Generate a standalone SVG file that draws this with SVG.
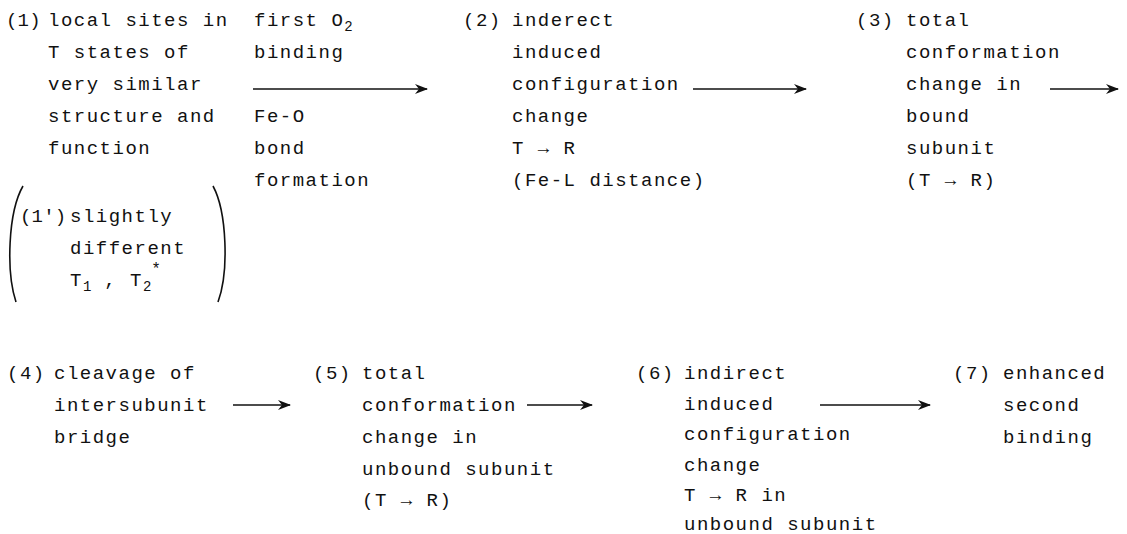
<svg xmlns="http://www.w3.org/2000/svg" width="1127" height="534" viewBox="0 0 1127 534">
<defs>
<style>
text{font-family:"Liberation Mono","DejaVu Sans Mono",monospace;font-size:19px;letter-spacing:1.5px;fill:#111}
.sub{font-size:14px;letter-spacing:0}
.lb{letter-spacing:0.2px}
.c{stroke:#111;stroke-width:1.4;fill:none}
.p{stroke:#111;stroke-width:1.6;fill:none}
</style>
<marker id="ah" viewBox="0 0 13 10" refX="12" refY="5" markerWidth="13" markerHeight="10" markerUnits="userSpaceOnUse" orient="auto">
<path d="M0,0 L13,5 L0,10 L4,5 z" fill="#111"/>
</marker>
</defs>
<rect width="1127" height="534" fill="#fff"/>
<g id="n1">
<text class="lb" x="6" y="26">(1)</text>
<text x="48" y="26">local sites in</text>
<text x="48" y="58">T states of</text>
<text x="48" y="90">very similar</text>
<text x="48" y="122">structure and</text>
<text x="48" y="154">function</text>
</g>
<g id="n1b">
<path class="p" d="M23 186 C8 212,6 272,16 302"/>
<path class="p" d="M213 186 C227 212,229 272,218 302"/>
<text class="lb" x="20" y="222">(1')</text>
<text x="70" y="222">slightly</text>
<text x="70" y="254">different</text>
<text x="70" y="286">T<tspan class="sub" dy="5">1</tspan><tspan dy="-5"> , T</tspan><tspan class="sub" dy="5">2</tspan><tspan dy="-17" font-size="16">*</tspan></text>
</g>
<g id="l1">
<text x="254" y="26">first O<tspan class="sub" dy="5">2</tspan></text>
<text x="254" y="58">binding</text>
<text x="254" y="122">Fe-O</text>
<text x="254" y="154">bond</text>
<text x="254" y="186">formation</text>
</g>
<g id="n2">
<text x="463" y="26">(2)</text>
<text x="512" y="26">inderect</text>
<text x="512" y="58">induced</text>
<text x="512" y="90">configuration</text>
<text x="512" y="122">change</text>
<text x="512" y="154">T → R</text>
<text x="512" y="186">(Fe-L distance)</text>
</g>
<g id="n3">
<text x="856" y="26">(3)</text>
<text x="906" y="26">total</text>
<text x="906" y="58">conformation</text>
<text x="906" y="90">change in</text>
<text x="906" y="122">bound</text>
<text x="906" y="154">subunit</text>
<text x="906" y="186">(T → R)</text>
</g>
<g id="n4">
<text x="7" y="379">(4)</text>
<text x="54" y="379">cleavage of</text>
<text x="54" y="411">intersubunit</text>
<text x="54" y="443">bridge</text>
</g>
<g id="n5">
<text x="313" y="379">(5)</text>
<text x="362" y="379">total</text>
<text x="362" y="411">conformation</text>
<text x="362" y="443">change in</text>
<text x="362" y="475">unbound subunit</text>
<text x="362" y="506">(T → R)</text>
</g>
<g id="n6">
<text x="636" y="379">(6)</text>
<text x="684" y="379">indirect</text>
<text x="684" y="409.5">induced</text>
<text x="684" y="440">configuration</text>
<text x="684" y="470.5">change</text>
<text x="684" y="501">T → R in</text>
<text x="684" y="530">unbound subunit</text>
</g>
<g id="n7">
<text x="953" y="379">(7)</text>
<text x="1003" y="379">enhanced</text>
<text x="1003" y="411">second</text>
<text x="1003" y="443">binding</text>
</g>
<g id="connectors">
<line class="c" x1="253" y1="89" x2="427" y2="89" marker-end="url(#ah)"/>
<line class="c" x1="693" y1="89" x2="806" y2="89" marker-end="url(#ah)"/>
<line class="c" x1="1050" y1="89" x2="1118" y2="89" marker-end="url(#ah)"/>
<line class="c" x1="233" y1="405" x2="290" y2="405" marker-end="url(#ah)"/>
<line class="c" x1="527" y1="405" x2="592" y2="405" marker-end="url(#ah)"/>
<line class="c" x1="820" y1="405" x2="930" y2="405" marker-end="url(#ah)"/>
</g>
</svg>
